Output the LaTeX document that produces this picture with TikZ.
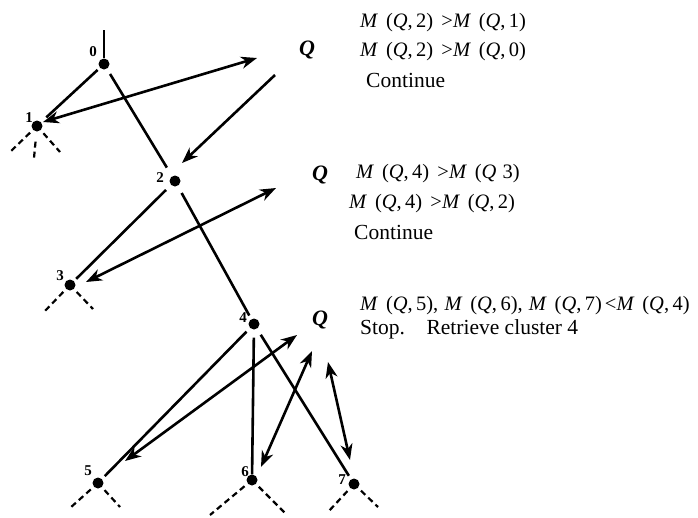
\documentclass[tikz,border=0pt]{standalone}
\usepackage{fontspec}
\setmainfont{Liberation Serif}
\usetikzlibrary{arrows.meta}
\tikzset{
  tedge/.style={line width=2.6pt},
  dashln/.style={line width=2.2pt, dash pattern=on 6pt off 4pt, shorten <=4pt},
  dbl/.style={line width=2.6pt, {Stealth[length=16pt,width=12pt,inset=5pt]}-{Stealth[length=16pt,width=12pt,inset=5pt]}},
  sgl/.style={line width=2.6pt, -{Stealth[length=16pt,width=12pt,inset=5pt]}},
  dot/.style={circle, fill=black, inner sep=0pt, minimum size=11pt},
  num/.style={font=\fontsize{15}{15}\selectfont\bfseries, inner sep=0pt},
  qlab/.style={font=\fontsize{22}{22}\selectfont\bfseries\itshape, inner sep=0pt},
  mtxt/.style={font=\fontsize{20.5}{20.5}\selectfont, inner sep=0pt, anchor=base west},
  rtxt/.style={font=\fontsize{21.5}{21.5}\selectfont, inner sep=0pt, anchor=base west},
}
\newcommand{\mi}[1]{\textit{#1}}
\newcommand{\mq}[1]{\mi{M}\hspace{0.38em}(\mi{Q},\,#1)}
\begin{document}
\begin{tikzpicture}[x=1pt,y=-1pt]
\useasboundingbox (0,0) rectangle (698,517);
% tree nodes
\node[dot] (n0) at (104,64) {};
\node[dot] (n1) at (37,126) {};
\node[dot] (n2) at (175,181) {};
\node[dot] (n3) at (70,285) {};
\node[dot] (n4) at (254,324) {};
\node[dot] (n5) at (98,483) {};
\node[dot] (n6) at (252,480) {};
\node[dot] (n7) at (354,484) {};
% labels
\node[num] (l0) at (93,52) {0};
\node[num] (l1) at (29,118) {1};
\node[num] (l2) at (160,178) {2};
\node[num] (l3) at (60,276) {3};
\node[num] (l4) at (243,318) {4};
\node[num] (l5) at (88,471) {5};
\node[num] (l6) at (245,472) {6};
\node[num] (l7) at (342,480) {7};
% tree edges
\coordinate (top) at (104,30);
\draw[tedge] (top) -- (n0);
\draw[tedge, shorten <=3pt, shorten >=7pt] (n0) -- (n1);
\draw[tedge, shorten <=6pt, shorten >=10pt] (n0) -- (n2);
\draw[tedge, shorten <=7pt, shorten >=3pt] (n2) -- (n3);
\draw[tedge, shorten <=8pt, shorten >=4pt] (n2) -- (n4);
\draw[tedge, shorten <=5pt, shorten >=4pt] (n4) -- (n5);
\draw[tedge, shorten <=8pt, shorten >=0pt] (n4) -- (n6);
\draw[tedge, shorten <=7pt, shorten >=4pt] (n4) -- (n7);
% dashed stubs
\coordinate (d1a) at (10,152);
\coordinate (d1b) at (34,158);
\coordinate (d1c) at (60,152);
\coordinate (d3a) at (43,313);
\coordinate (d3b) at (93,309);
\coordinate (d5a) at (70,508);
\coordinate (d5b) at (120,507);
\coordinate (d6a) at (210,515);
\coordinate (d6b) at (285,513);
\coordinate (d7a) at (328,512);
\coordinate (d7b) at (378,507);
\draw[dashln] (n1) -- (d1a);
\draw[dashln, shorten <=10pt] (n1) -- (d1b);
\draw[dashln] (n1) -- (d1c);
\draw[dashln] (n3) -- (d3a);
\draw[dashln] (n3) -- (d3b);
\draw[dashln] (n5) -- (d5a);
\draw[dashln] (n5) -- (d5b);
\draw[dashln] (n6) -- (d6a);
\draw[dashln] (n6) -- (d6b);
\draw[dashln] (n7) -- (d7a);
\draw[dashln] (n7) -- (d7b);
% Q labels
\node[qlab] (q1) at (307,50) {Q};
\node[qlab] (q2) at (320,175) {Q};
\node[qlab] (q3) at (320,320) {Q};
% arrows
\coordinate (a1s) at (43,122);
\coordinate (a1e) at (257,58);
\coordinate (a2s) at (275,75);
\coordinate (a2e) at (182,163);
\coordinate (a3s) at (86,282);
\coordinate (a3e) at (276,188);
\coordinate (a4s) at (125,461);
\coordinate (a4e) at (297,335);
\coordinate (a5s) at (261,467);
\coordinate (a5e) at (312,351);
\coordinate (a6s) at (328,362);
\coordinate (a6e) at (350,460);
\draw[dbl] (a1s) -- (a1e);
\draw[sgl] (a2s) -- (a2e);
\draw[dbl] (a3s) -- (a3e);
\draw[dbl] (a4s) -- (a4e);
\draw[dbl] (a5s) -- (a5e);
\draw[dbl] (a6s) -- (a6e);
% texts
\node[mtxt] (t1) at (360,27) {\mq{2}\hspace{0.4em}>\mq{1}};
\node[mtxt] (t2) at (360,56) {\mq{2}\hspace{0.4em}>\mq{0}};
\node[rtxt] (t3) at (366,87) {Continue};
\node[mtxt] (t4) at (356,178) {\mq{4}\hspace{0.4em}>\mi{M}\hspace{0.38em}(\mi{Q}\hspace{0.3em}3)};
\node[mtxt] (t5) at (349,208) {\mq{4}\hspace{0.4em}>\mq{2}};
\node[rtxt] (t6) at (354,239) {Continue};
\node[mtxt] (t7) at (360,310) {\mq{5},\hspace{0.3em}\mq{6},\hspace{0.3em}\mq{7}\hspace{0.15em}<\mq{4}};
\node[rtxt] (t8) at (360,334) {Stop.\hspace{1em}Retrieve cluster 4};
\end{tikzpicture}
\end{document}
